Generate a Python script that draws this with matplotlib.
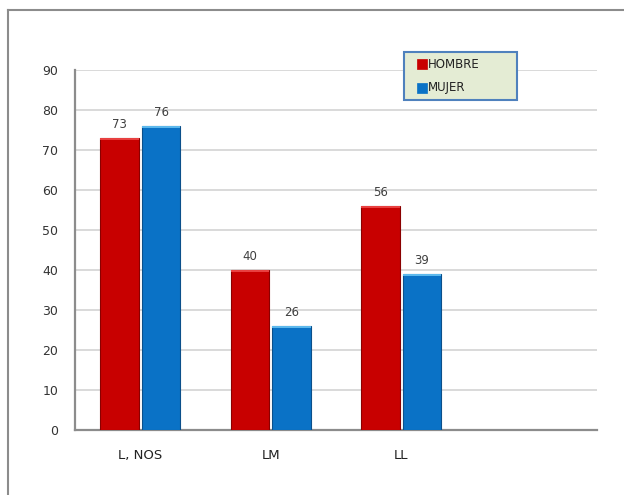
import numpy as np
import matplotlib
matplotlib.use("Agg")
import matplotlib.pyplot as plt
from matplotlib.lines import Line2D
from matplotlib.patches import Rectangle

# datos
categorias = ["L, NOS", "LM", "LL", ""]
hombre = [73, 40, 56]
mujer = [76, 26, 39]
series = ["HOMBRE", "MUJER"]
colores = ["#c80000", "#0a72c6"]

plt.rcParams['font.family'] = ['DejaVu Sans']

fig = plt.figure(figsize=(6.24, 4.95), dpi=100)
ax = fig.add_axes([75/624, 65/495, 522/624, 360/495])

x = np.arange(len(hombre))
w = 0.295
gap = 0.012

b1 = ax.bar(x - w/2 - gap, hombre, w, color=colores[0], edgecolor="#8a0000", linewidth=0.8, zorder=3)
b2 = ax.bar(x + w/2 + gap, mujer, w, color=colores[1], edgecolor="#0b4f8a", linewidth=0.8, zorder=3)

# brillo fino en el borde superior
for bars, col in [(b1, "#e84040"), (b2, "#5cb8ec")]:
    for b in bars:
        ax.add_patch(Rectangle((b.get_x(), b.get_height() - 0.5), b.get_width(), 0.5,
                               color=col, zorder=4, lw=0))

for bars, vals in [(b1, hombre), (b2, mujer)]:
    for b, v in zip(bars, vals):
        ax.text(b.get_x() + b.get_width()/2, v + 1.8, str(v), ha="center", va="bottom",
                fontsize=8.5, color="#404040", zorder=5)

ax.set_xlim(-0.5, len(categorias) - 0.5)
ax.set_ylim(0, 90)
ax.set_yticks(range(0, 91, 10))
ax.set_xticks(range(len(categorias)))
ax.set_xticklabels(categorias, fontsize=9.5, color="#222222")
ax.tick_params(axis="x", length=0, pad=14)
ax.tick_params(axis="y", length=0, pad=12, labelsize=9, labelcolor="#333333")
ax.grid(axis="y", color="#d9d9d9", linewidth=1.4, zorder=0)
ax.set_axisbelow(True)
for s in ["top", "right"]:
    ax.spines[s].set_visible(False)
for s in ["left", "bottom"]:
    ax.spines[s].set_color("#8c8c8c")
    ax.spines[s].set_linewidth(1.6)

# leyenda dibujada a mano
fx = lambda px: px / 624
fy = lambda py: 1 - py / 495
fig.add_artist(Rectangle((fx(404), fy(100)), fx(517) - fx(404), fy(52) - fy(100),
                         transform=fig.transFigure, facecolor="#e4ecd4", edgecolor="#4f81bd", lw=1.5))
for i, (nombre, col) in enumerate(zip(series, colores)):
    yy = 64 + i * 24
    fig.add_artist(Rectangle((fx(417), fy(yy + 5)), fx(10), 10/495, transform=fig.transFigure,
                             facecolor=col, edgecolor=col, lw=0.5))
    fig.text(fx(428), fy(yy), nombre, fontsize=8.5, color="#222222", va="center", ha="left")

# borde exterior (solo izquierdo y superior visibles)
fig.add_artist(Line2D([fx(8), fx(8)], [0, fy(10)], color="#8c8c8c", lw=1.5, transform=fig.transFigure))
fig.add_artist(Line2D([fx(8), 1], [fy(10), fy(10)], color="#8c8c8c", lw=1.5, transform=fig.transFigure))

fig.savefig("out.png", dpi=100)
